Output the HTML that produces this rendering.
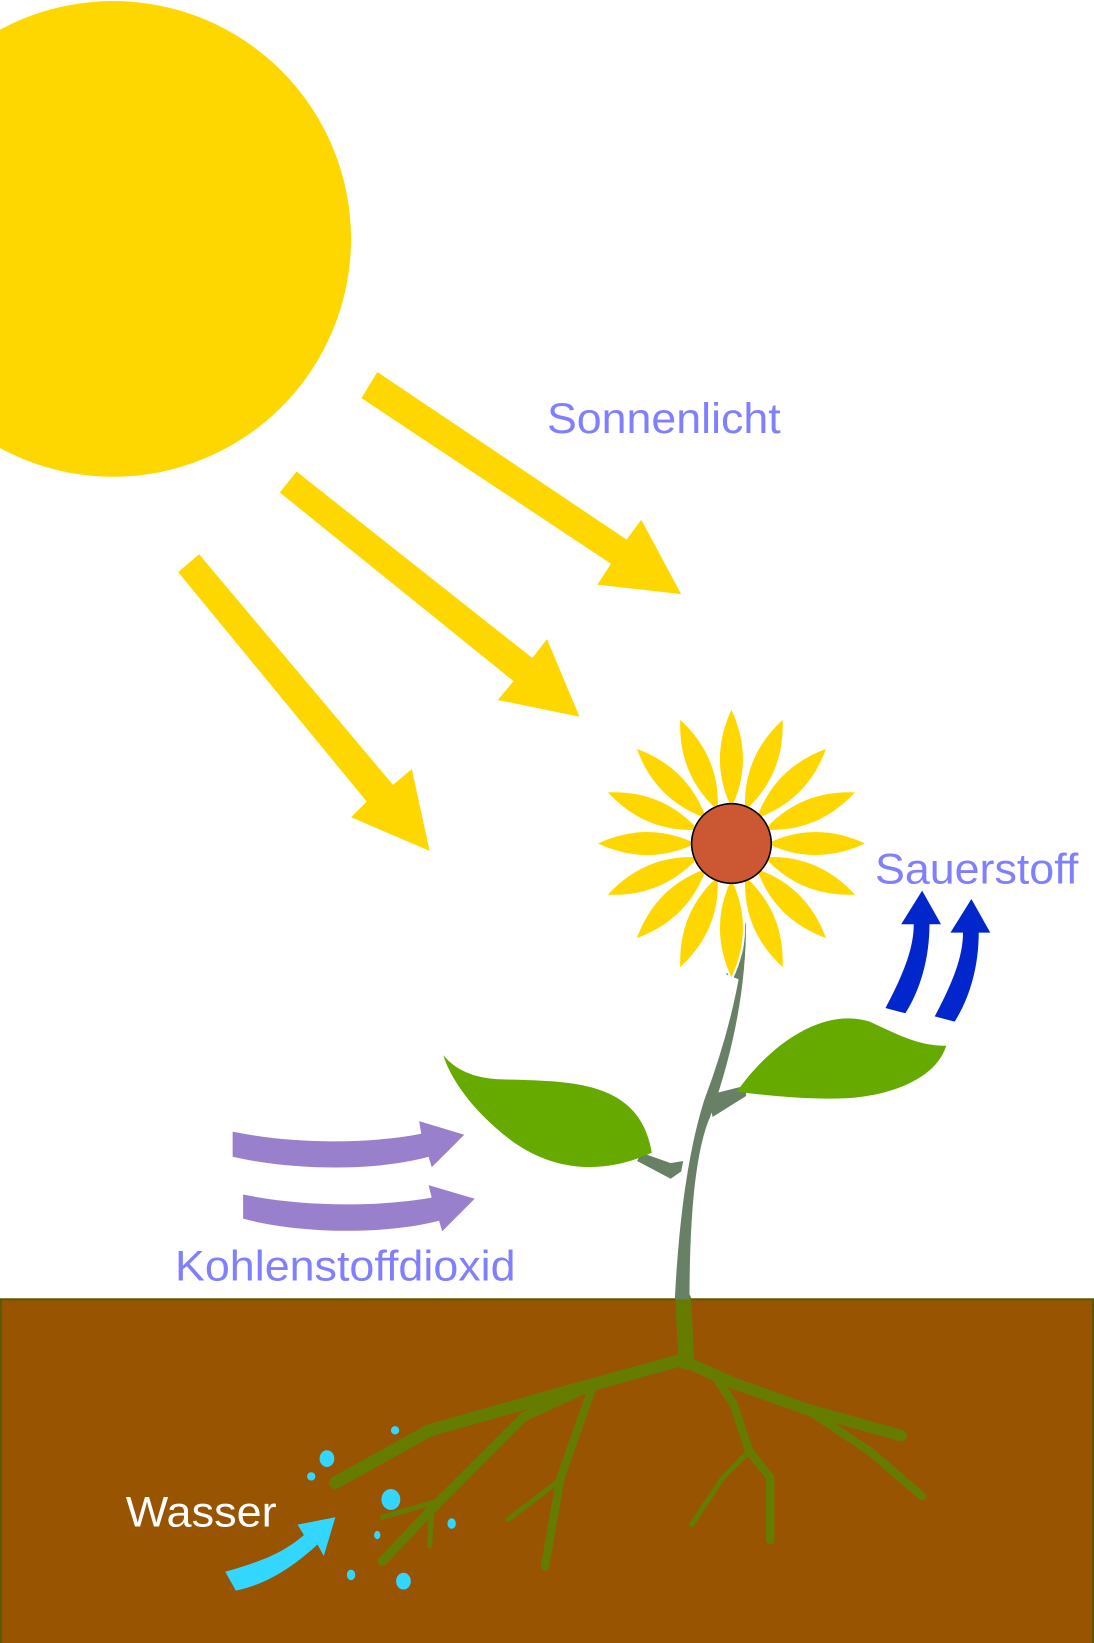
<!DOCTYPE html>
<html><head><meta charset="utf-8"><style>html,body{margin:0;padding:0;background:#fff}svg{display:block}</style></head>
<body>
<svg width="1094" height="1643" viewBox="0 0 1044 1568" preserveAspectRatio="none" xmlns="http://www.w3.org/2000/svg">
<rect width="1044" height="1568" fill="#fff"/>
<circle cx="108" cy="228" r="227" fill="#FFD700"/>
<g fill="#FFD700">
<polygon points="360,355 345,380 583,538 570,558 650,567 612,496 598,515"/>
<polygon points="283,450 267,470 490,650 475,668 553,684 522,610 508,628"/>
<polygon points="190,529 170,546 350,765 335,780 410,812 393,734 375,749"/>
</g>
<rect x="1" y="1240" width="1042" height="330" fill="#985400" stroke="#5a5a00" stroke-width="2"/>
<g fill="none" stroke="#667C00" stroke-linecap="round" stroke-linejoin="round">
<path d="M652,1240 L655,1300" stroke-width="15"/>
<path d="M650,1298 L570,1320 L410,1365 L320,1415" stroke-width="12"/>
<path d="M570,1320 L500,1352 L420,1432 L365,1490" stroke-width="9"/>
<path d="M420,1432 L365,1448" stroke-width="5"/>
<path d="M412,1440 L410,1475" stroke-width="5"/>
<path d="M565,1325 L535,1410 L520,1495" stroke-width="8"/>
<path d="M535,1412 L485,1450" stroke-width="5"/>
<path d="M655,1300 L700,1320 L770,1345 L860,1370" stroke-width="11"/>
<path d="M770,1345 L830,1385 L880,1428" stroke-width="8"/>
<path d="M680,1310 L700,1340 L715,1385 L735,1410 L735,1470" stroke-width="8"/>
<path d="M715,1385 L690,1410 L660,1455" stroke-width="5"/>
</g>
<g fill="#33D6FF">
<path d="M215,1500 C250,1490 270,1482 290,1465 L284,1455 L320,1448 L309,1485 L303,1474 C280,1495 255,1512 225,1518Z"/>
<ellipse cx="377" cy="1365" rx="4" ry="4"/>
<ellipse cx="312" cy="1392" rx="7" ry="8"/>
<ellipse cx="297" cy="1409" rx="4" ry="4"/>
<ellipse cx="373" cy="1431" rx="9" ry="10"/>
<ellipse cx="431" cy="1454" rx="4" ry="5"/>
<ellipse cx="360" cy="1465" rx="3" ry="4"/>
<ellipse cx="335" cy="1503" rx="4" ry="5"/>
<ellipse cx="385" cy="1509" rx="7" ry="8"/>
</g>
<path d="M712,880 Q706,960 672,1050 Q650,1120 644,1240 L658,1240 Q658,1110 678,1065 Q712,970 712,880Z" fill="#688066"/>
<path d="M693,930 L712,880 L706,935Z" fill="#688066"/>
<path d="M612,1100 L640,1110 L652,1108 L650,1118 L640,1125 L608,1108Z" fill="#688066"/>
<path d="M676,1045 L712,1036 L712,1046 L680,1066Z" fill="#688066"/>
<path d="M423,1007 Q440,1028 475,1030 C545,1032 610,1030 622,1100 C590,1115 540,1125 490,1090 C452,1062 430,1030 423,1007Z" fill="#66AA00"/>
<path d="M703,1042 C740,990 790,962 830,975 C862,990 878,998 903,998 C893,1030 850,1045 810,1048 C770,1050 730,1045 703,1042Z" fill="#66AA00"/>
<g transform="translate(698,805)" fill="#FFD700" stroke="#fff" stroke-width="2">
<g id="p"><path d="M0,-32 Q24,-80 0,-130 Q-24,-80 0,-32Z"/></g>
<use href="#p" transform="rotate(22.5)"/><use href="#p" transform="rotate(45)"/><use href="#p" transform="rotate(67.5)"/>
<use href="#p" transform="rotate(90)"/><use href="#p" transform="rotate(112.5)"/><use href="#p" transform="rotate(135)"/>
<use href="#p" transform="rotate(157.5)"/><use href="#p" transform="rotate(180)"/><use href="#p" transform="rotate(202.5)"/>
<use href="#p" transform="rotate(225)"/><use href="#p" transform="rotate(247.5)"/><use href="#p" transform="rotate(270)"/>
<use href="#p" transform="rotate(292.5)"/><use href="#p" transform="rotate(315)"/><use href="#p" transform="rotate(337.5)"/>
</g>
<circle cx="698" cy="805" r="38" fill="#CC5733" stroke="#000" stroke-width="1.5"/>
<g fill="#0026CC">
<path d="M845,962 C862,930 872,905 872,882 L860,882 L880,850 L898,882 L887,882 C887,915 878,945 864,967Z"/>
<path d="M892,970 C909,938 919,913 919,890 L907,890 L927,858 L945,890 L934,890 C934,923 925,953 911,975Z"/>
</g>
<g fill="#9980CC">
<path d="M222,1080 C280,1092 350,1092 402,1082 L400,1070 L443,1083 L412,1114 L409,1104 C350,1120 270,1115 222,1104Z"/>
<path d="M232,1140 C290,1152 360,1152 412,1143 L409,1131 L453,1144 L422,1175 L419,1165 C360,1180 280,1176 232,1163Z"/>
</g>
<g font-family="Liberation Sans, sans-serif" font-size="41">
<text x="522" y="413" fill="#8080FF" textLength="223" lengthAdjust="spacingAndGlyphs">Sonnenlicht</text>
<text x="835" y="843" fill="#8080FF" textLength="194" lengthAdjust="spacingAndGlyphs">Sauerstoff</text>
<text x="167" y="1222" fill="#8080FF" textLength="325" lengthAdjust="spacingAndGlyphs">Kohlenstoffdioxid</text>
<text x="120" y="1457" fill="#fff" textLength="144" lengthAdjust="spacingAndGlyphs">Wasser</text>
</g>
</svg>
</body></html>
